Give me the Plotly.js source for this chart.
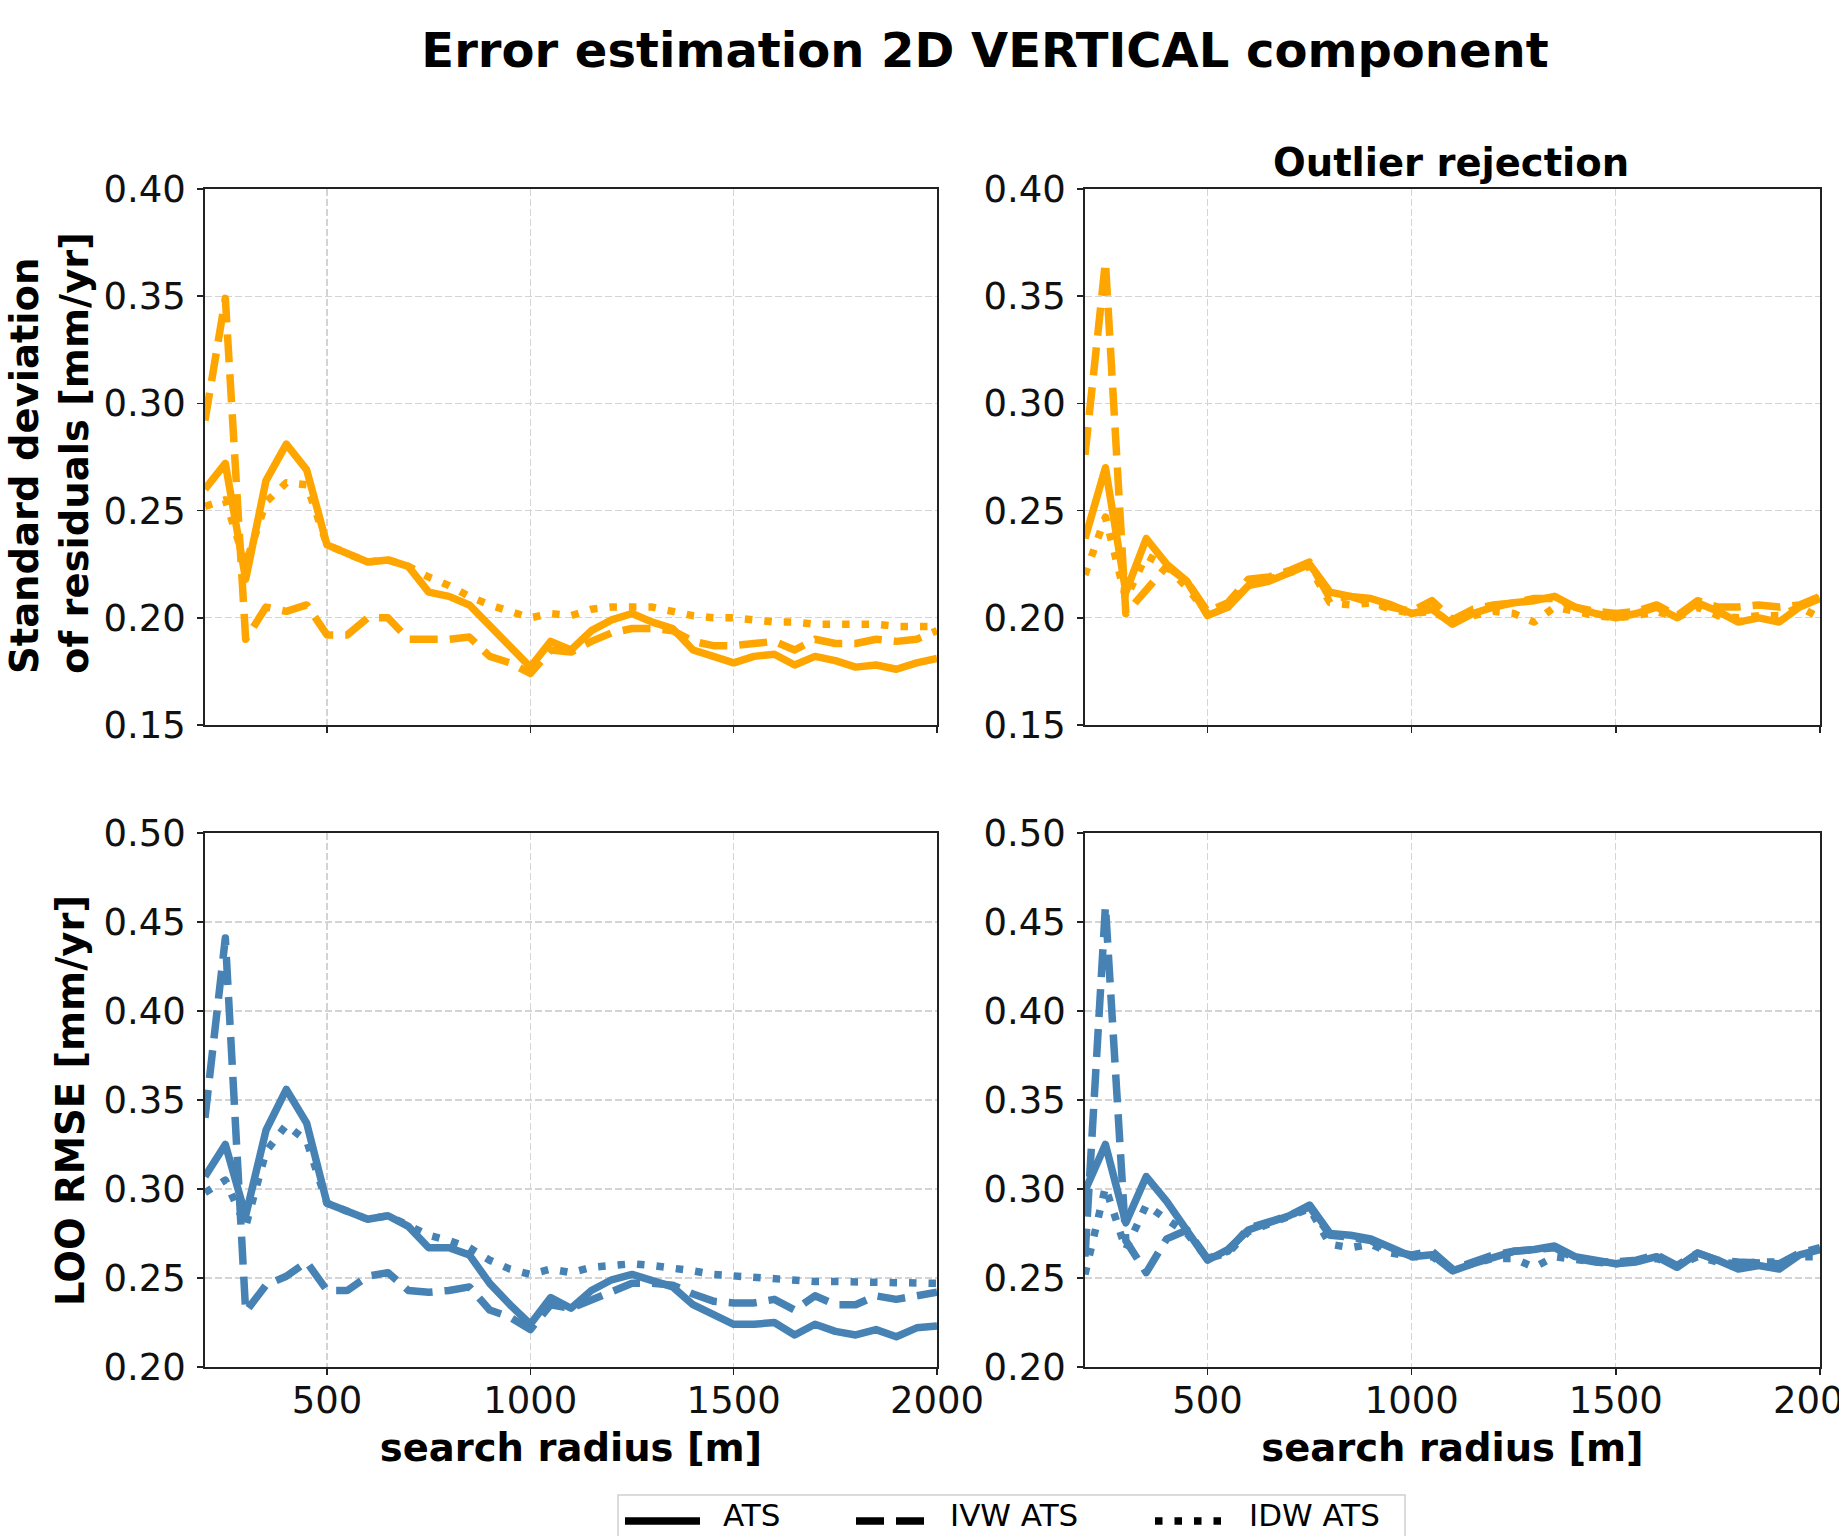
<!DOCTYPE html>
<html><head><meta charset="utf-8">
<script src="https://cdn.plot.ly/plotly-3.0.1.min.js"></script>
<style>
html,body{margin:0;padding:0;background:#fff;}
#chart{width:1839px;height:1536px;}
.scatterlayer .js-line{stroke-linejoin:round;}
</style>
</head><body><div id="chart"></div>
<script>
// search radius [m]
const radius = [200,250,300,350,400,450,500,550,600,650,700,750,800,850,900,950,1000,1050,1100,1150,1200,1250,1300,1350,1400,1450,1500,1550,1600,1650,1700,1750,1800,1850,1900,1950,2000];

// Standard deviation of residuals [mm/yr] (no outlier rejection)
const stdATS = [0.260,0.272,0.218,0.264,0.281,0.269,0.234,0.230,0.226,0.227,0.224,0.212,0.210,0.206,0.196,0.186,0.177,0.189,0.185,0.194,0.199,0.202,0.198,0.195,0.185,0.182,0.179,0.182,0.183,0.178,0.182,0.180,0.177,0.178,0.176,0.179,0.181];
const stdIVW = [0.292,0.349,0.190,0.205,0.203,0.206,0.192,0.192,0.200,0.200,0.190,0.190,0.190,0.191,0.182,0.179,0.174,0.185,0.184,0.189,0.193,0.195,0.195,0.194,0.189,0.187,0.187,0.188,0.189,0.185,0.190,0.188,0.188,0.190,0.189,0.190,0.194];
const stdIDW = [0.252,0.255,0.225,0.254,0.263,0.262,0.234,0.230,0.226,0.227,0.224,0.219,0.215,0.210,0.206,0.203,0.200,0.202,0.201,0.204,0.205,0.205,0.205,0.203,0.201,0.200,0.200,0.199,0.198,0.198,0.197,0.197,0.197,0.197,0.196,0.196,0.196];

// Standard deviation of residuals [mm/yr] (outlier rejection)
const orStdATS = [0.237,0.270,0.212,0.237,0.225,0.217,0.201,0.205,0.215,0.217,0.221,0.225,0.212,0.210,0.209,0.206,0.202,0.204,0.197,0.202,0.205,0.207,0.208,0.210,0.205,0.202,0.200,0.202,0.205,0.200,0.207,0.203,0.198,0.200,0.198,0.205,0.209];
const orStdIVW = [0.276,0.366,0.202,0.213,0.224,0.217,0.203,0.207,0.218,0.219,0.222,0.226,0.209,0.210,0.207,0.205,0.203,0.208,0.199,0.204,0.206,0.207,0.209,0.209,0.205,0.203,0.202,0.203,0.206,0.201,0.208,0.205,0.205,0.206,0.205,0.206,0.210];
const orStdIDW = [0.220,0.247,0.209,0.229,0.224,0.214,0.202,0.205,0.216,0.218,0.221,0.224,0.207,0.206,0.207,0.204,0.202,0.203,0.198,0.201,0.203,0.202,0.198,0.205,0.203,0.201,0.200,0.201,0.203,0.200,0.205,0.201,0.200,0.201,0.201,0.205,0.200];

// LOO RMSE [mm/yr] (no outlier rejection)
const rmseATS = [0.307,0.325,0.285,0.333,0.356,0.337,0.292,0.288,0.283,0.285,0.279,0.267,0.267,0.263,0.247,0.235,0.224,0.239,0.233,0.243,0.249,0.252,0.248,0.245,0.235,0.229,0.224,0.224,0.225,0.218,0.224,0.220,0.218,0.221,0.217,0.222,0.223];
const rmseIVW = [0.340,0.441,0.231,0.246,0.251,0.259,0.243,0.243,0.251,0.253,0.243,0.242,0.243,0.245,0.232,0.228,0.221,0.235,0.233,0.238,0.243,0.247,0.247,0.246,0.241,0.237,0.236,0.236,0.238,0.232,0.240,0.235,0.235,0.240,0.238,0.240,0.242];
const rmseIDW = [0.298,0.305,0.279,0.321,0.336,0.327,0.292,0.288,0.283,0.285,0.280,0.274,0.271,0.267,0.260,0.255,0.252,0.255,0.253,0.256,0.257,0.258,0.257,0.256,0.254,0.252,0.251,0.250,0.249,0.249,0.248,0.248,0.248,0.247,0.247,0.247,0.247];

// LOO RMSE [mm/yr] (outlier rejection)
const orRmseATS = [0.299,0.325,0.281,0.307,0.293,0.277,0.260,0.266,0.277,0.281,0.285,0.291,0.275,0.274,0.272,0.267,0.262,0.263,0.254,0.258,0.262,0.265,0.266,0.268,0.262,0.260,0.258,0.259,0.262,0.256,0.264,0.260,0.255,0.257,0.255,0.263,0.266];
const orRmseIVW = [0.262,0.459,0.271,0.253,0.272,0.277,0.261,0.265,0.278,0.281,0.285,0.290,0.274,0.273,0.271,0.265,0.263,0.265,0.255,0.259,0.263,0.265,0.266,0.267,0.261,0.259,0.259,0.260,0.263,0.257,0.264,0.260,0.259,0.259,0.258,0.264,0.267];
const orRmseIDW = [0.252,0.301,0.266,0.291,0.283,0.275,0.261,0.264,0.276,0.280,0.284,0.289,0.269,0.267,0.269,0.264,0.262,0.262,0.255,0.258,0.261,0.261,0.256,0.262,0.260,0.259,0.258,0.259,0.261,0.257,0.262,0.259,0.258,0.259,0.259,0.262,0.262];

const xTicks = [500,1000,1500,2000];
const stdTicks = [0.15,0.20,0.25,0.30,0.35,0.40];
const rmseTicks = [0.20,0.25,0.30,0.35,0.40,0.45,0.50];
const seriesNames = ['ATS','IVW ATS','IDW ATS'];

const ORANGE = '#FFA500', BLUE = '#4682B4';
const LW = 7.5;
const DASHES = ['solid','28px,12px','7.5px,12px'];
const FONT = 'DejaVu Sans';
const LABEL_SIZE = 38.5;

const W = 1839, H = 1536;
const M = {l:205, r:19, t:189, b:169};
const PW = W - M.l - M.r, PH = H - M.t - M.b;
const px2x = p => (p - M.l) / PW;
const px2y = p => (H - M.b - p) / PH;

function mk(y, color, i, xa, ya){
  return {x: radius, y: y, type:'scatter', mode:'lines', name: seriesNames[i],
    line:{color:color, width:LW, dash:DASHES[i]}, xaxis:xa, yaxis:ya,
    showlegend:false, hoverinfo:'skip'};
}

const data = [
  mk(stdATS, ORANGE, 0, 'x', 'y'), mk(stdIVW, ORANGE, 1, 'x', 'y'), mk(stdIDW, ORANGE, 2, 'x', 'y'),
  mk(orStdATS, ORANGE, 0, 'x2', 'y2'), mk(orStdIVW, ORANGE, 1, 'x2', 'y2'), mk(orStdIDW, ORANGE, 2, 'x2', 'y2'),
  mk(rmseATS, BLUE, 0, 'x3', 'y3'), mk(rmseIVW, BLUE, 1, 'x3', 'y3'), mk(rmseIDW, BLUE, 2, 'x3', 'y3'),
  mk(orRmseATS, BLUE, 0, 'x4', 'y4'), mk(orRmseIVW, BLUE, 1, 'x4', 'y4'), mk(orRmseIDW, BLUE, 2, 'x4', 'y4')
];

const axCommon = {
  showline:true, mirror:true, linecolor:'#222', linewidth:1.7,
  ticks:'outside', ticklen:6, tickwidth:1.6, tickcolor:'#222',
  showgrid:true, gridcolor:'#d4d4d4', gridwidth:1.2, griddash:'7px,3px',
  zeroline:false, tickfont:{family:FONT, size:37, color:'#111'},
  ticklabeloverflow:'allow'
};
function xax(domain, anchor, labels){
  const a = Object.assign({}, axCommon, {domain:domain, anchor:anchor, range:[200,2000],
    tickvals:xTicks, tickformat:'d', showticklabels:labels, ticklabelstandoff:-6});
  if(labels){ a.title = {text:'<b>search radius [m]</b>', font:{family:FONT, size:LABEL_SIZE, color:'#000'}, standoff:13}; }
  return a;
}
function yax(domain, anchor, range, ticks){
  return Object.assign({}, axCommon, {domain:domain, anchor:anchor, range:range,
    tickvals:ticks, tickformat:'.2f', ticklabelstandoff:4});
}

const xL = [0, px2x(937)], xR = [px2x(1085), 1];
const yT = [px2y(725), 1], yB = [0, px2y(833)];

const legY = px2y(1521);
const shapes = [
  {type:'rect', xref:'paper', yref:'paper', x0:px2x(618), x1:px2x(1405), y0:px2y(1560), y1:px2y(1495),
   line:{color:'#cfcfcf', width:1.5}, fillcolor:'rgba(255,255,255,0.8)'},
  {type:'line', xref:'paper', yref:'paper', x0:px2x(625), x1:px2x(700), y0:legY, y1:legY, line:{color:'#000', width:LW, dash:DASHES[0]}},
  {type:'line', xref:'paper', yref:'paper', x0:px2x(856), x1:px2x(935), y0:legY, y1:legY, line:{color:'#000', width:LW, dash:DASHES[1]}},
  {type:'line', xref:'paper', yref:'paper', x0:px2x(1155), x1:px2x(1226), y0:legY, y1:legY, line:{color:'#000', width:LW, dash:DASHES[2]}}
];

const legText = (t, px) => ({text:t, xref:'paper', yref:'paper', x:px2x(px), y:px2y(1535), xanchor:'left', yanchor:'bottom',
  showarrow:false, font:{family:FONT, size:31, color:'#000'}});

const annotations = [
  {text:'<b>Outlier rejection</b>', xref:'paper', yref:'paper', x:px2x(1451), y:px2y(163), xanchor:'center', yanchor:'middle',
   showarrow:false, font:{family:FONT, size:LABEL_SIZE, color:'#000'}},
  {text:'<b>Standard deviation</b><br><b>of residuals [mm/yr]</b>', xref:'paper', yref:'paper', x:px2x(49), y:px2y(453),
   xanchor:'center', yanchor:'middle', textangle:-90, align:'left', showarrow:false, font:{family:FONT, size:LABEL_SIZE, color:'#000'}},
  {text:'<b>LOO RMSE [mm/yr]</b>', xref:'paper', yref:'paper', x:px2x(70), y:px2y(1101),
   xanchor:'center', yanchor:'middle', textangle:-90, showarrow:false, font:{family:FONT, size:LABEL_SIZE, color:'#000'}},
  legText(seriesNames[0], 721), legText(seriesNames[1], 948), legText(seriesNames[2], 1247)
];

const layout = {
  width:W, height:H, margin:M, paper_bgcolor:'#fff', plot_bgcolor:'#fff',
  font:{family:FONT, color:'#000'},
  showlegend:false,
  title:{text:'<b>Error estimation 2D VERTICAL component</b>', font:{family:FONT, size:48, color:'#000'},
    x:985/W, xref:'container', xanchor:'center', y:1-50/H, yref:'container', yanchor:'middle'},
  xaxis: xax(xL, 'y', false),
  xaxis2: xax(xR, 'y2', false),
  xaxis3: xax(xL, 'y3', true),
  xaxis4: xax(xR, 'y4', true),
  yaxis: yax(yT, 'x', [0.15,0.40], stdTicks),
  yaxis2: yax(yT, 'x2', [0.15,0.40], stdTicks),
  yaxis3: yax(yB, 'x3', [0.20,0.50], rmseTicks),
  yaxis4: yax(yB, 'x4', [0.20,0.50], rmseTicks),
  shapes:shapes, annotations:annotations
};

Plotly.newPlot('chart', data, layout, {staticPlot:true, displayModeBar:false});
</script>
</body></html>
